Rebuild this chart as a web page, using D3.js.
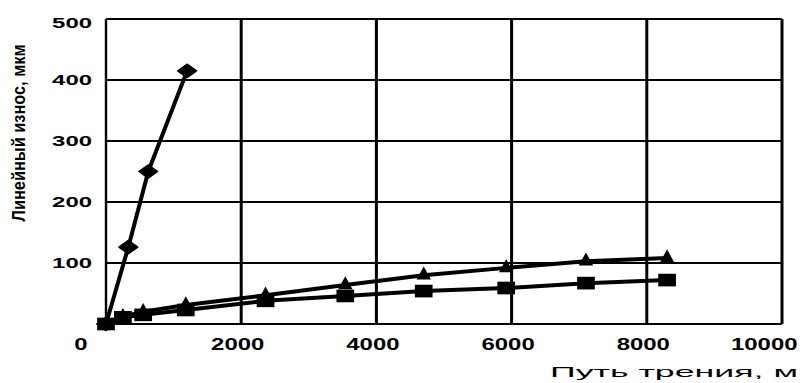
<!DOCTYPE html>
<html>
<head>
<meta charset="utf-8">
<script src="https://cdn.jsdelivr.net/npm/d3@7"></script>
<style>
  html, body { margin: 0; padding: 0; background: #fff; }
  svg { display: block; }
</style>
</head>
<body>
<svg id="chart" width="806" height="383"></svg>
<script>
// ---- data ----
const xTicks = [0, 2000, 4000, 6000, 8000, 10000];
const yTicks = [0, 100, 200, 300, 400, 500];
const yTickLabels = ["", "100", "200", "300", "400", "500"];
const xTickLabels = ["0", "2000", "4000", "6000", "8000", "10000"];

const diamondX = [0, 330, 625, 1200];
const diamondY = [0, 126, 250, 415];

const triangleX = [0, 250, 550, 1180, 2360, 3540, 4700, 5920, 7100, 8300];
const triangleY = [0, 12, 20, 31, 47, 64, 80, 92, 103, 108];

const squareX = [0, 250, 550, 1180, 2360, 3540, 4700, 5920, 7100, 8300];
const squareY = [0, 11, 15, 23, 38, 46, 54, 59, 67, 72];

const yTitle = "Линейный износ, мкм";
const xTitle = "Путь трения, м";

// ---- layout ----
const svg = d3.select("#chart");
const x = d3.scaleLinear().domain([0, 10000]).range([106, 782]);
const y = d3.scaleLinear().domain([0, 500]).range([324, 19]);

// grid: horizontal lines
svg.append("g").selectAll("line").data(yTicks.filter(d => d > 0)).join("line")
  .attr("x1", x(0)).attr("x2", x(10000))
  .attr("y1", d => y(d)).attr("y2", d => y(d))
  .attr("stroke", "#000").attr("stroke-width", 1.8);

// vertical grid lines
svg.append("g").selectAll("line").data(xTicks.filter(d => d > 0)).join("line")
  .attr("x1", d => x(d)).attr("x2", d => x(d))
  .attr("y1", y(500)).attr("y2", y(0))
  .attr("stroke", "#000").attr("stroke-width", 3);

// left axis line & bottom axis line
svg.append("line").attr("x1", x(0)).attr("x2", x(0)).attr("y1", y(500)).attr("y2", y(0))
  .attr("stroke", "#000").attr("stroke-width", 2.4);
svg.append("line").attr("x1", x(0)).attr("x2", x(10000)).attr("y1", y(0)).attr("y2", y(0))
  .attr("stroke", "#000").attr("stroke-width", 2);

// y axis labels
const yAxis = d3.axisLeft(y).tickValues(yTicks).tickSize(0).tickPadding(14)
  .tickFormat((d, i) => yTickLabels[i]);
const gy = svg.append("g").attr("transform", `translate(${x(0)},0)`).call(yAxis);
gy.select(".domain").remove();
gy.selectAll("text")
  .attr("font-family", "'Liberation Sans', Arial, sans-serif")
  .attr("font-weight", "bold")
  .attr("font-size", 15.5)
  .attr("fill", "#000")
  .each(function() {
    const t = d3.select(this).text();
    if (t) d3.select(this).attr("textLength", t.length * 13.3).attr("lengthAdjust", "spacingAndGlyphs");
  });
gy.selectAll(".tick").filter(d => d === 500).select("text").attr("dy", "0.55em");

// x axis labels
const xAxis = d3.axisBottom(x).tickValues(xTicks).tickSize(0).tickPadding(15)
  .tickFormat((d, i) => xTickLabels[i]);
const gx = svg.append("g").attr("transform", `translate(0,${y(0)})`).call(xAxis);
gx.select(".domain").remove();
gx.selectAll("text")
  .attr("font-family", "'Liberation Sans', Arial, sans-serif")
  .attr("font-weight", "bold")
  .attr("font-size", 16)
  .attr("fill", "#000")
  .attr("textLength", function() { return d3.select(this).text().length * 13.3; })
  .attr("lengthAdjust", "spacingAndGlyphs")
  .attr("text-anchor", (d, i) => (i === 0 || i === xTicks.length - 1) ? "end" : "middle")
  .attr("dx", (d, i) => i === 0 ? -19 : (i === xTicks.length - 1 ? 15 : -4));

// lines
const line = d3.line().x(d => x(d[0])).y(d => y(d[1]));
function series(xs, ys) { return xs.map((v, i) => [v, ys[i]]); }
const dData = series(diamondX, diamondY);
const tData = series(triangleX, triangleY);
const sData = series(squareX, squareY);

[dData, tData, sData].forEach(data => {
  svg.append("path").datum(data).attr("d", line)
    .attr("fill", "none").attr("stroke", "#000").attr("stroke-width", 4)
    .attr("stroke-linejoin", "round");
});

// markers
svg.append("g").selectAll("path").data(sData).join("path")
  .attr("d", d3.symbol().type(d3.symbolSquare).size(160))
  .attr("transform", d => `translate(${x(d[0])},${y(d[1])}) scale(1.4,1)`)
  .attr("fill", "#000");
svg.append("g").selectAll("path").data(tData).join("path")
  .attr("d", d3.symbol().type(d3.symbolTriangle).size(100))
  .attr("transform", d => `translate(${x(d[0])},${y(d[1])}) scale(0.95,1)`)
  .attr("fill", "#000");
svg.append("g").selectAll("path").data(dData).join("path")
  .attr("d", d3.symbol().type(d3.symbolSquare).size(85))
  .attr("transform", d => `translate(${x(d[0])},${y(d[1])}) scale(1.4,1) rotate(45)`)
  .attr("fill", "#000")
  .attr("stroke", "#000").attr("stroke-width", 1.5).attr("stroke-linejoin", "round");

// titles
svg.append("text")
  .attr("transform", "translate(25,133) rotate(-90)")
  .attr("text-anchor", "middle")
  .attr("font-family", "'Liberation Sans Narrow', 'Liberation Sans', Arial, sans-serif")
  .attr("font-weight", "bold")
  .attr("font-size", 19)
  .attr("textLength", 177).attr("lengthAdjust", "spacingAndGlyphs")
  .text(yTitle);

svg.append("text")
  .attr("x", 550).attr("y", 377)
  .attr("font-family", "'Liberation Sans', Arial, sans-serif")
  .attr("font-size", 15.5)
  .attr("textLength", 248).attr("lengthAdjust", "spacingAndGlyphs")
  .text(xTitle);
</script>
</body>
</html>
